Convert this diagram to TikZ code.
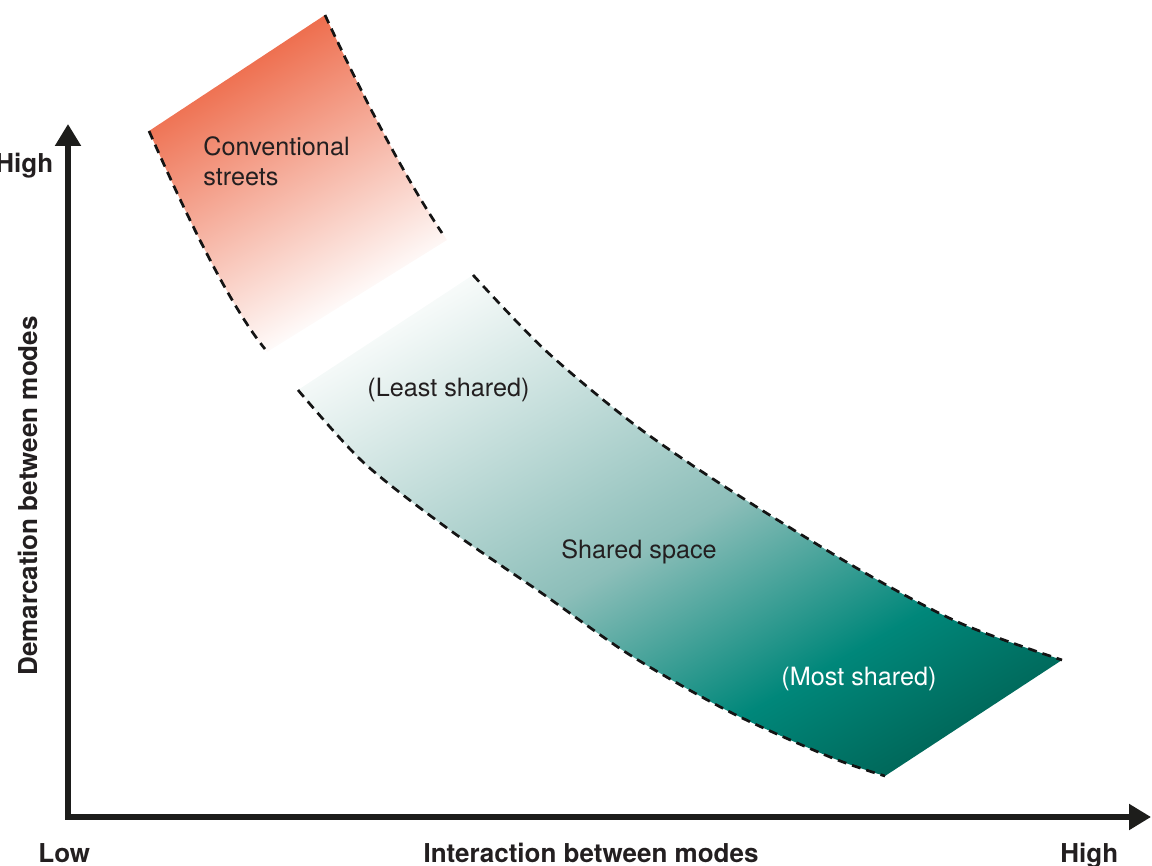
\documentclass[tikz,border=0pt]{standalone}
\usepackage{fontspec}
\setmainfont{TeX Gyre Heros}
\usetikzlibrary{arrows.meta}
\definecolor{orng}{RGB}{238,110,78}
\definecolor{tealpale}{RGB}{246,250,249}
\definecolor{tealmid}{RGB}{140,190,185}
\definecolor{tealc}{RGB}{0,135,122}
\definecolor{tealdk}{RGB}{0,104,90}
\definecolor{ink}{RGB}{35,31,32}
\definecolor{axisk}{RGB}{29,29,27}
\pgfdeclarehorizontalshading{bandshade}{100bp}{color(0bp)=(orng); color(25bp)=(orng); color(39.4bp)=(white); color(41.2bp)=(tealpale); color(58.2bp)=(tealmid); color(68.4bp)=(tealc); color(75bp)=(tealdk); color(100bp)=(tealdk)}
\tikzset{
  axisline/.style={draw=axisk, line width=2.6pt, line join=miter,
    {Triangle[length=11pt,width=12.5pt]}-{Triangle[length=11pt,width=12.5pt]}},
  dashline/.style={draw=black!92, line width=1.35pt, dash pattern=on 4.5pt off 3pt},
  axislabel/.style={inner sep=0pt, text=ink, font=\bfseries\fontsize{13}{15.6}\selectfont},
  bandlabel/.style={inner sep=0pt, text=ink, font=\fontsize{12.6}{15}\selectfont},
}
\begin{document}
\begin{tikzpicture}[x=0.5pt,y=-0.5pt]
\useasboundingbox (0,0) rectangle (1152,866);
% bands with gradient fill
\begin{scope}
  \clip (149,131) .. controls (175,190) and (225,300) .. (267,352)
        -- (447,240) .. controls (400,170) and (355,80) .. (325,15) -- cycle
        plot[smooth] coordinates {(298,390) (363,462) (447,528) (543,594) (630,655) (730,712) (830,757) (885,776)}
        -- plot[smooth] coordinates {(1062,660) (960,623) (860,570) (730,490) (635,425) (545,350) (473,275)} -- cycle;
  \begin{scope}[transform canvas={rotate around={-60:(606,395)}}]
    \shade[shading=bandshade] (136,95) rectangle (1076,695);
  \end{scope}
\end{scope}
% dashed borders
\draw[dashline] (149,131) .. controls (175,190) and (225,300) .. (265,349);
\draw[dashline] (325,15) .. controls (355,80) and (400,170) .. (442,233);
\draw[dashline] plot[smooth] coordinates {(298,390) (363,462) (447,528) (543,594) (630,655) (730,712) (830,757) (885,776)};
\draw[dashline] plot[smooth] coordinates {(473,275) (545,350) (635,425) (730,490) (860,570) (960,623) (1062,660)};
% axes
\coordinate (ytip) at (68,124);
\coordinate (origin) at (68,817);
\coordinate (xtip) at (1151,817);
\draw[axisline] (ytip) -- (origin) -- (xtip);
% axis labels
\node[axislabel, anchor=base west] (yhigh) at (-5,173) {High};
\node[axislabel, anchor=base west] (xlow) at (38,862) {Low};
\node[axislabel, anchor=base] (xtitle) at (591,862) {Interaction between modes};
\node[axislabel, anchor=base west] (xhigh) at (1060,862) {High};
\node[axislabel, anchor=base, rotate=90] (ytitle) at (38,496) {Demarcation between modes};
% band labels
\node[bandlabel, anchor=north west, align=left] (conv) at (203,136) {Conventional\\streets};
\node[bandlabel, anchor=base west] (least) at (367,396) {(Least shared)};
\node[bandlabel, anchor=base west] (shared) at (561,558) {Shared space};
\node[bandlabel, anchor=base west, text=white] (most) at (781,685) {(Most shared)};
\end{tikzpicture}
\end{document}
